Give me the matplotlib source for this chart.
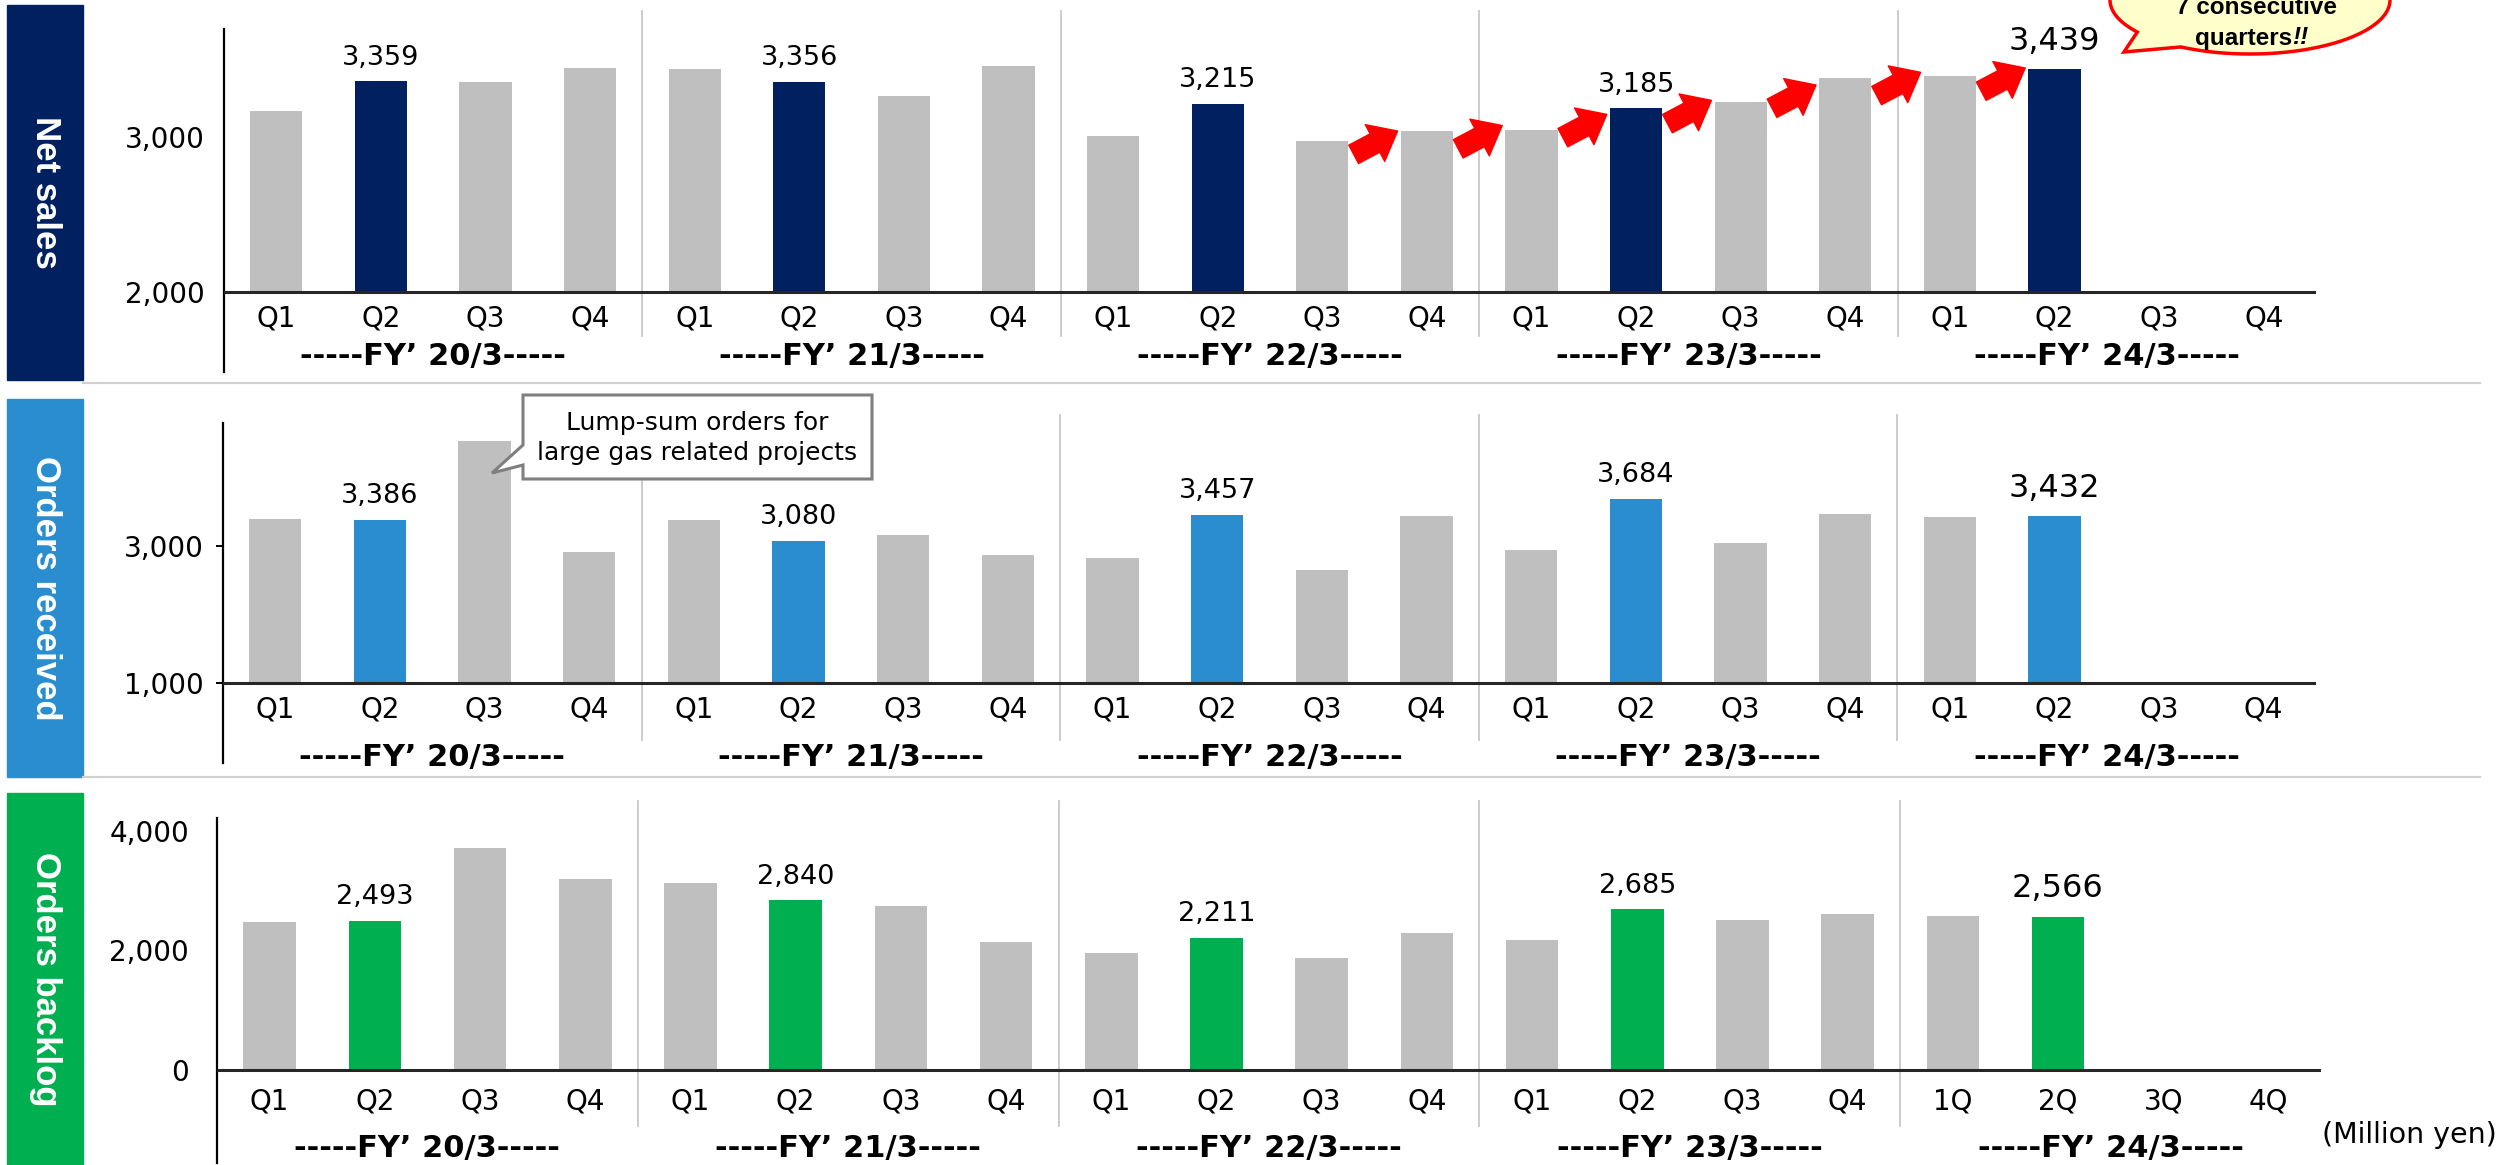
import numpy as np
import matplotlib
matplotlib.use("Agg")
import matplotlib.pyplot as plt
from matplotlib.patches import Polygon, Rectangle
from matplotlib.lines import Line2D
from matplotlib.transforms import blended_transform_factory

# ---------------- data ----------------
quarters = ["Q1", "Q2", "Q3", "Q4"]
quarters_last_backlog = ["1Q", "2Q", "3Q", "4Q"]
years = ["FY\u2019 20/3", "FY\u2019 21/3", "FY\u2019 22/3", "FY\u2019 23/3", "FY\u2019 24/3"]

net_sales = [3165, 3359, 3353, 3443,
             3437, 3356, 3267, 3460,
             3009, 3215, 2976, 3041,
             3047, 3185, 3228, 3383,
             3392, 3439, np.nan, np.nan]
orders_received = [3393, 3386, 4529, 2913,
                   3379, 3080, 3165, 2873,
                   2830, 3457, 2654, 3443,
                   2946, 3684, 3049, 3472,
                   3428, 3432, np.nan, np.nan]
orders_backlog = [2474, 2493, 3710, 3192,
                  3125, 2840, 2750, 2144,
                  1961, 2211, 1878, 2294,
                  2177, 2685, 2510, 2609,
                  2583, 2566, np.nan, np.nan]

panel_titles = ["Net sales", "Orders received", "Orders backlog"]
callout_text = "Lump-sum orders for\nlarge gas related projects"
bubble_line1 = "7 consecutive"
bubble_line2 = "quarters"
unit_text = "(Million yen)"

# ---------------- style ----------------
W, H = 2501, 1165
GRAY = "#BFBFBF"
NAVY = "#00205F"
BLUE = "#298DD0"
GREEN = "#00AF50"
plt.rcParams["font.family"] = ["DejaVu Sans"]

fig = plt.figure(figsize=(W / 100, H / 100), dpi=100)


def fx(x):
    return x / W


def fy(y):
    return 1 - y / H


panels = [
    dict(values=net_sales, base=2000, ylim=(1484, 3697), yticks=[2000, 3000], color=NAVY,
         box=(5, 380), axpx=(224, 2316, 29, 372), tick_len=0, tick_pad=14,
         sep=(0.105, 1.052), qy=0.157, fyy=0.044, qlast=quarters),
    dict(values=orders_received, base=1000, ylim=(-168, 4796), yticks=[1000, 3000], color=BLUE,
         box=(399, 777), axpx=(223, 2316, 423, 763), tick_len=5, tick_pad=9,
         sep=(0.068, 1.024), qy=0.156, fyy=0.015, qlast=quarters),
    dict(values=orders_backlog, base=0, ylim=(-1555, 4214), yticks=[0, 2000, 4000], color=GREEN,
         box=(793, 1166), axpx=(217, 2321, 818, 1163), tick_len=0, tick_pad=20,
         sep=(0.107, 1.049), qy=0.177, fyy=0.043, qlast=quarters_last_backlog),
]

x = np.arange(20)
axes = []
for p, title in zip(panels, panel_titles):
    l, r, t, b = p["axpx"]
    ax = fig.add_axes([fx(l), fy(b), (r - l) / W, (b - t) / H])
    axes.append(ax)
    ax.set_xlim(-0.5, 19.5)
    ax.set_ylim(*p["ylim"])
    vals = np.array(p["values"], dtype=float)
    cols = np.array([p["color"] if i % 4 == 1 else GRAY for i in range(20)])
    m = ~np.isnan(vals)
    ax.bar(x[m], vals[m] - p["base"], bottom=p["base"], width=0.5, color=cols[m], zorder=2)
    ax.axhline(p["base"], color="#262626", lw=2.2, zorder=3)
    for s in ["top", "right", "bottom"]:
        ax.spines[s].set_visible(False)
    ax.spines["left"].set_linewidth(1.6)
    ax.spines["left"].set_color("#000000")
    ax.set_xticks([])
    ax.set_yticks(p["yticks"])
    ax.set_yticklabels([f"{v:,}" for v in p["yticks"]], fontsize=20)
    ax.tick_params(axis="y", length=p["tick_len"], width=1.4, pad=p["tick_pad"])
    ax.patch.set_alpha(0)

    # fiscal year separators
    for k in range(1, 5):
        ax.axvline(4 * k - 0.5, ymin=p["sep"][0], ymax=p["sep"][1], color="#C8C8C8",
                   lw=1.3, clip_on=False, zorder=1)

    trans = blended_transform_factory(ax.transData, ax.transAxes)
    for i in range(20):
        lab = p["qlast"][i % 4] if i >= 16 else quarters[i % 4]
        ax.text(i, p["qy"], lab, transform=trans, ha="center", va="center", fontsize=20)
    for k, yr in enumerate(years):
        ax.text(4 * k + 1.5, p["fyy"], "-----" + yr + "-----", transform=trans,
                ha="center", va="center", fontsize=22, fontweight="bold")

    # value labels for Q2 of each year
    for i in range(1, 20, 4):
        v = vals[i]
        if np.isnan(v):
            continue
        last = i == 17
        ax.annotate(f"{v:,.0f}", xy=(i, v), xytext=(0, 14 if last else 12),
                    textcoords="offset points", ha="center", va="baseline",
                    fontsize=23 if last else 19.5)

    # left coloured title box
    y0, y1 = p["box"]
    fig.add_artist(Rectangle((fx(7), fy(y1)), (83 - 7) / W, (y1 - y0) / H,
                             transform=fig.transFigure, color=p["color"], zorder=0))
    fig.text(fx(45), fy((y0 + y1) / 2), title, rotation=270, ha="center", va="center",
             color="white", fontsize=25, fontweight="bold",
             family=["Liberation Sans", "DejaVu Sans"])

# horizontal separators between panels
for yy in (383, 777):
    fig.add_artist(Line2D([fx(83), fx(2480)], [fy(yy), fy(yy)], color="#D0D0D0", lw=1.6))

# red growth arrows (net sales, FY22 Q3 -> FY24 Q2)
ax0 = axes[0]
ns = np.array(net_sales, dtype=float)
for i in range(10, 17):
    c = (ns[i] + ns[i + 1]) / 2 - 50
    ax0.annotate("", xy=(i + 0.72, c + 80), xytext=(i + 0.30, c - 70),
                 arrowprops=dict(arrowstyle="simple,head_length=0.8,head_width=1.3,tail_width=0.65",
                                 color="#FF0000", mutation_scale=23, shrinkA=0, shrinkB=0),
                 annotation_clip=False, zorder=5)

# callout (orders received)
cpts = [(523, 395), (872, 395), (872, 479), (523, 479), (523, 465), (492, 473), (523, 445)]
fig.add_artist(Polygon([(fx(a), fy(b)) for a, b in cpts], closed=True, transform=fig.transFigure,
                       facecolor="white", edgecolor="#7F7F7F", lw=2.2, zorder=6))
fig.text(fx(697), fy(438), callout_text, ha="center", va="center", fontsize=18,
         linespacing=1.35, zorder=7)

# speech bubble (top right)
cx, cy, a, bb = 2250, 0, 140, 54
th = np.radians(np.linspace(143.6, 479.6, 200))
pts = [(cx + a * np.cos(t), cy + bb * np.sin(t)) for t in th] + [(2124, 52)]
fig.add_artist(Polygon([(fx(u), fy(v)) for u, v in pts], closed=True, transform=fig.transFigure,
                       facecolor="#FFFFCC", edgecolor="#FF0000", lw=2.5, zorder=6))
bfam = ["Liberation Sans", "DejaVu Sans"]
fig.text(fx(2256), fy(8), bubble_line1, ha="center", va="center", fontsize=17.5,
         fontweight="bold", family=bfam, zorder=7)
fig.text(fx(2292), fy(38), bubble_line2, ha="right", va="center", fontsize=17.5,
         fontweight="bold", family=bfam, zorder=7)
fig.text(fx(2292), fy(38), "!!", ha="left", va="center", fontsize=17.5,
         fontweight="bold", fontstyle="italic", family=bfam, zorder=7)

# unit
fig.text(fx(2497), fy(1135), unit_text, ha="right", va="center", fontsize=20.5)

fig.savefig("out.png", dpi=100, facecolor="white")
